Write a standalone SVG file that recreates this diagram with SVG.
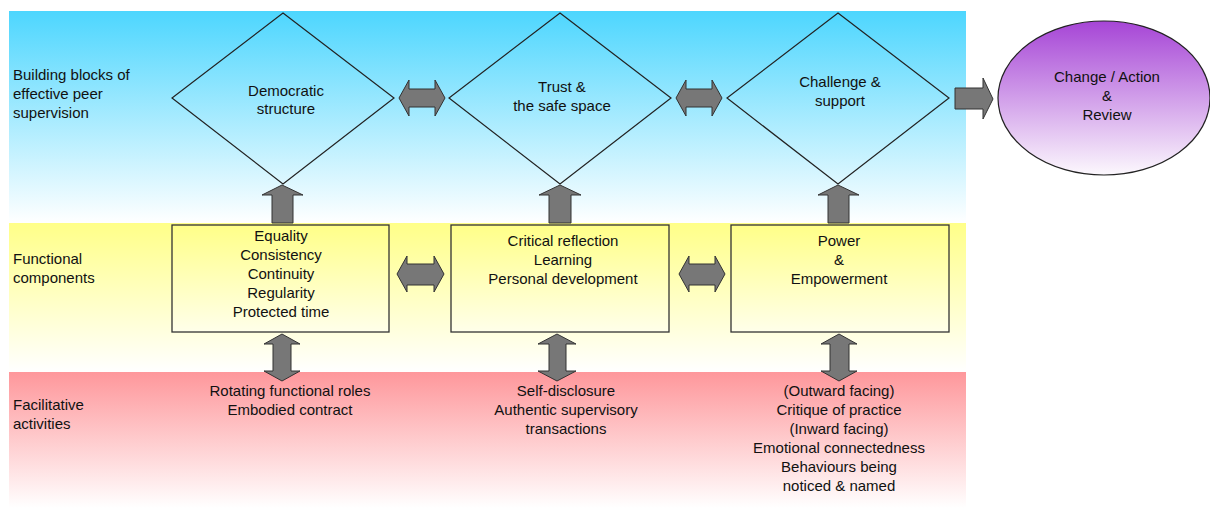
<svg xmlns="http://www.w3.org/2000/svg" width="1210" height="509" viewBox="0 0 1210 509">
<defs>
<linearGradient id="gBlue" x1="0" y1="0" x2="0" y2="1"><stop offset="0" stop-color="#4DD6FE"/><stop offset="1" stop-color="#FFFFFF"/></linearGradient>
<linearGradient id="gYellow" x1="0" y1="0" x2="0" y2="1"><stop offset="0" stop-color="#FFFF88"/><stop offset="1" stop-color="#FFFFFF"/></linearGradient>
<linearGradient id="gPink" x1="0" y1="0" x2="0" y2="1"><stop offset="0" stop-color="#FE979B"/><stop offset="1" stop-color="#FFFFFF"/></linearGradient>
<linearGradient id="gBox" x1="0" y1="0" x2="0" y2="1"><stop offset="0" stop-color="#FFFF88"/><stop offset="1" stop-color="#FFFFEA"/></linearGradient>
<linearGradient id="gPurple" x1="0" y1="0" x2="0" y2="1"><stop offset="0" stop-color="#A645D6"/><stop offset="1" stop-color="#FCF8FD"/></linearGradient>
</defs>
<style>
text{font-family:"Liberation Sans",Arial,sans-serif;font-size:15px;fill:#111;}
.c{text-anchor:middle;}
.dia{fill:none;stroke:#222;stroke-width:1.2;}
.box{fill:url(#gBox);stroke:#333;stroke-width:1.3;}
.arr{fill:#777;stroke:#333;stroke-width:1;stroke-linejoin:miter;}
</style>
<g id="bands">
<rect x="9" y="11" width="957" height="212" fill="url(#gBlue)"/>
<rect x="9" y="223" width="957" height="149" fill="url(#gYellow)"/>
<rect x="9" y="372" width="957" height="136" fill="url(#gPink)"/>
</g>
<g id="row-labels">
<text x="13" y="80">Building blocks of</text>
<text x="13" y="99">effective peer</text>
<text x="13" y="118">supervision</text>
<text x="13" y="264">Functional</text>
<text x="13" y="283">components</text>
<text x="13" y="410">Facilitative</text>
<text x="13" y="429">activities</text>
</g>
<g id="connectors">
<path class="arr" d="M399,98 L409,80 L409,89 L435,89 L435,80 L445,98 L435,116 L435,107 L409,107 L409,116 Z"/>
<path class="arr" d="M676,98 L686,80 L686,89 L712,89 L712,80 L722,98 L712,116 L712,107 L686,107 L686,116 Z"/>
<path class="arr" d="M955,88 L983,88 L983,78 L993,99 L983,119 L983,109 L955,109 Z"/>
<path class="arr" d="M282,185 L303,195 L293,195 L293,223 L272,223 L272,195 L262,195 Z"/>
<path class="arr" d="M560,185 L581,195 L571,195 L571,223 L549,223 L549,195 L539,195 Z"/>
<path class="arr" d="M838,185 L859,195 L849,195 L849,223 L828,223 L828,195 L818,195 Z"/>
<path class="arr" d="M397,274 L407,256 L407,264 L434,264 L434,256 L444,274 L434,292 L434,285 L407,285 L407,292 Z"/>
<path class="arr" d="M679,274 L689,256 L689,264 L715,264 L715,256 L725,274 L715,292 L715,285 L689,285 L689,292 Z"/>
<path class="arr" d="M282,334 L300,344 L291,344 L291,371 L300,371 L282,381 L264,371 L273,371 L273,344 L264,344 Z"/>
<path class="arr" d="M557,334 L576,344 L566,344 L566,371 L576,371 L557,381 L538,371 L549,371 L549,344 L538,344 Z"/>
<path class="arr" d="M839,334 L857,344 L849,344 L849,371 L857,371 L839,381 L821,371 L830,371 L830,344 L821,344 Z"/>
</g>
<g id="democratic-structure">
<path class="dia" d="M283,13 L394,98 L283,184 L172,98 Z"/>
<text class="c" x="286" y="96">Democratic</text>
<text class="c" x="286" y="114">structure</text>
</g>
<g id="trust-safe-space">
<path class="dia" d="M560,13 L671,98 L560,184 L449,98 Z"/>
<text class="c" x="562" y="92">Trust &amp;</text>
<text class="c" x="562" y="111">the safe space</text>
</g>
<g id="challenge-support">
<path class="dia" d="M838,13 L949,98 L838,184 L727,98 Z"/>
<text class="c" x="840" y="87">Challenge &amp;</text>
<text class="c" x="840" y="106">support</text>
</g>
<g id="change-action-review">
<ellipse cx="1104" cy="98" rx="106" ry="77" fill="url(#gPurple)" stroke="#222" stroke-width="1.2"/>
<text class="c" x="1107" y="82">Change / Action</text>
<text class="c" x="1107" y="101">&amp;</text>
<text class="c" x="1107" y="120">Review</text>
</g>
<g id="box-equality">
<rect class="box" x="172" y="225" width="217" height="107"/>
<text class="c" x="281" y="241">Equality</text>
<text class="c" x="281" y="260">Consistency</text>
<text class="c" x="281" y="279">Continuity</text>
<text class="c" x="281" y="298">Regularity</text>
<text class="c" x="281" y="317">Protected time</text>
</g>
<g id="box-critical-reflection">
<rect class="box" x="451" y="225" width="218" height="107"/>
<text class="c" x="563" y="246">Critical reflection</text>
<text class="c" x="563" y="265">Learning</text>
<text class="c" x="563" y="284">Personal development</text>
</g>
<g id="box-power">
<rect class="box" x="731" y="225" width="218" height="107"/>
<text class="c" x="839" y="246">Power</text>
<text class="c" x="839" y="265">&amp;</text>
<text class="c" x="839" y="284">Empowerment</text>
</g>
<g id="activities-1">
<text class="c" x="290" y="396">Rotating functional roles</text>
<text class="c" x="290" y="415">Embodied contract</text>
</g>
<g id="activities-2">
<text class="c" x="566" y="396">Self-disclosure</text>
<text class="c" x="566" y="415">Authentic supervisory</text>
<text class="c" x="566" y="434">transactions</text>
</g>
<g id="activities-3">
<text class="c" x="839" y="396">(Outward facing)</text>
<text class="c" x="839" y="415">Critique of practice</text>
<text class="c" x="839" y="434">(Inward facing)</text>
<text class="c" x="839" y="453">Emotional connectedness</text>
<text class="c" x="839" y="472">Behaviours being</text>
<text class="c" x="839" y="491">noticed &amp; named</text>
</g>
</svg>
